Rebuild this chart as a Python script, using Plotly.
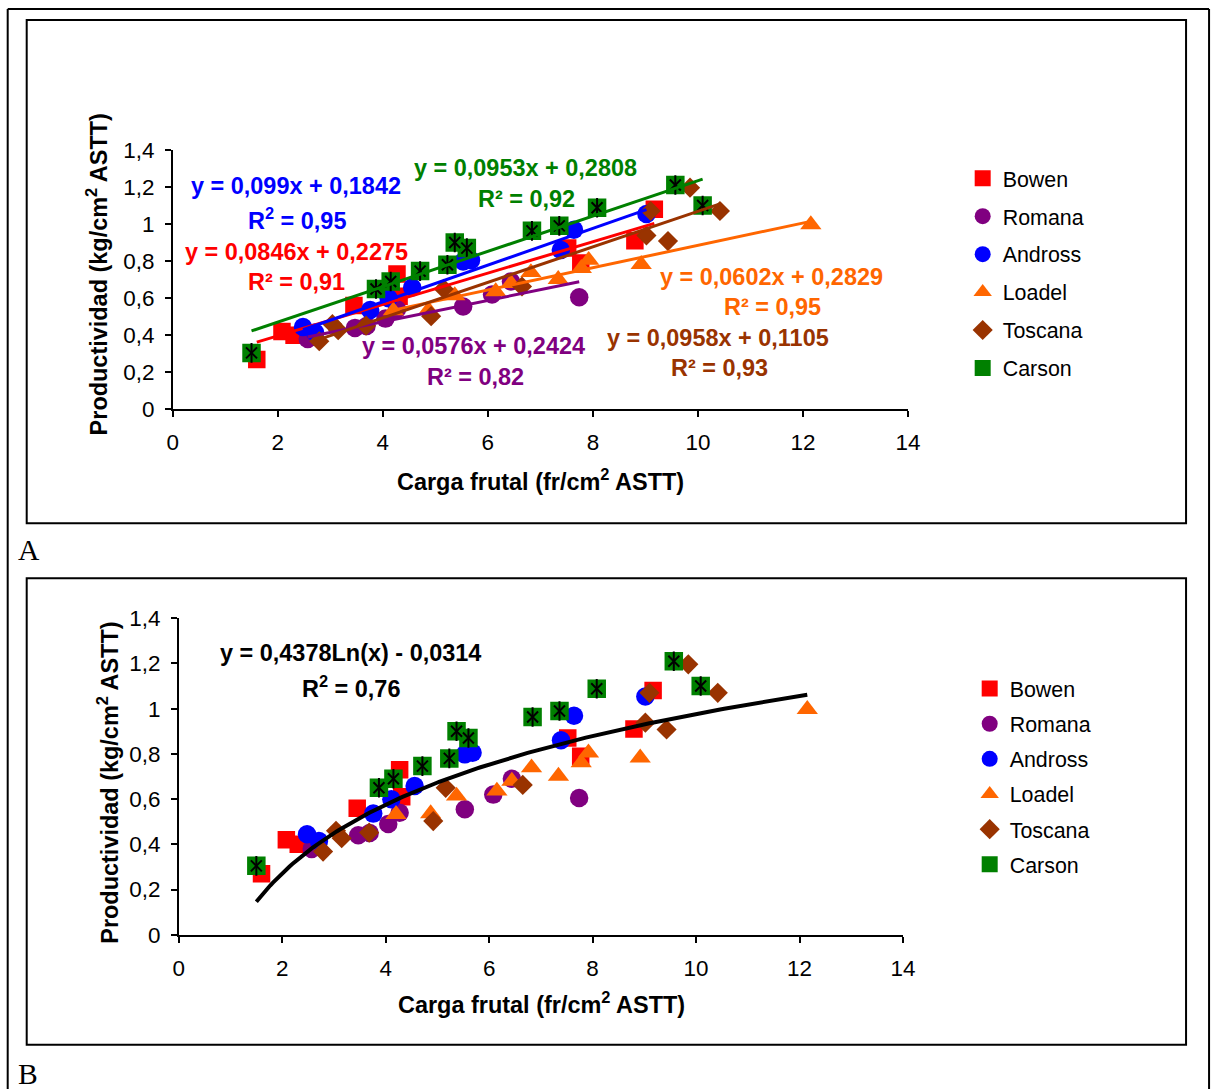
import plotly.graph_objects as go
import numpy as np

# The photographed page shows the figure slightly scaled and offset
# (measured: ref_x = 6.3 + 0.985 * fig_x, ref_y = 10.0 + 0.9786 * fig_y),
# so positions below are given in reference pixels and converted.
OX, SX = 6.3, 0.985
OY, SY = 10.0, 0.9786
W, H = 1224, 1103
FS = 1.02  # font compensation

# ---------------- data ----------------
varieties = ["Bowen", "Romana", "Andross", "Loadel", "Toscana", "Carson"]

bowen_x = [1.60, 2.08, 2.31, 3.45, 4.27, 4.31, 7.52, 7.77, 8.80, 9.17]
bowen_y = [0.27, 0.42, 0.40, 0.56, 0.73, 0.61, 0.87, 0.79, 0.91, 1.08]

romana_x = [2.57, 3.47, 3.69, 4.05, 4.27, 5.53, 6.08, 6.44, 7.74]
romana_y = [0.38, 0.44, 0.45, 0.49, 0.54, 0.555, 0.62, 0.69, 0.605]

andross_x = [2.48, 2.71, 3.76, 4.11, 4.56, 5.53, 5.68, 7.39, 7.64, 9.02]
andross_y = [0.445, 0.415, 0.536, 0.60, 0.658, 0.798, 0.805, 0.86, 0.969, 1.054]

loadel_x = [4.20, 4.87, 5.37, 6.15, 6.44, 6.82, 7.34, 7.78, 7.92, 8.92, 12.15]
loadel_y = [0.533, 0.536, 0.614, 0.636, 0.68, 0.739, 0.702, 0.761, 0.805, 0.783, 0.997]

toscana_x = [2.79, 3.04, 3.15, 3.68, 4.92, 5.16, 6.65, 9.02, 9.10, 9.43, 9.85, 10.42]
toscana_y = [0.368, 0.46, 0.427, 0.452, 0.503, 0.65, 0.663, 0.938, 1.07, 0.908, 1.196, 1.07]

carson_x = [1.50, 3.87, 4.15, 4.71, 5.23, 5.37, 5.60, 6.84, 7.36, 8.08, 9.57, 10.09]
carson_y = [0.305, 0.65, 0.69, 0.746, 0.78, 0.90, 0.87, 0.963, 0.99, 1.088, 1.21, 1.10]

series_x = [bowen_x, romana_x, andross_x, loadel_x, toscana_x, carson_x]
series_y = [bowen_y, romana_y, andross_y, loadel_y, toscana_y, carson_y]

# linear trend lines (panel A)
slopes = [0.0846, 0.0576, 0.099, 0.0602, 0.0958, 0.0953]
intercepts = [0.2275, 0.2424, 0.1842, 0.2829, 0.1105, 0.2808]
eq_texts = ["y = 0,0846x + 0,2275", "y = 0,0576x + 0,2424", "y = 0,099x + 0,1842",
            "y = 0,0602x + 0,2829", "y = 0,0958x + 0,1105", "y = 0,0953x + 0,2808"]
r2_texts = ["R² = 0,91", "R² = 0,82", "R<sup>2</sup> = 0,95",
            "R² = 0,95", "R² = 0,93", "R² = 0,92"]

# logarithmic trend (panel B)
log_a, log_b = 0.4378, -0.0314
log_eq = "y = 0,4378Ln(x) - 0,0314"
log_r2 = "R<sup>2</sup> = 0,76"

x_ticks = [0, 2, 4, 6, 8, 10, 12, 14]
y_tick_vals = [0, 0.2, 0.4, 0.6, 0.8, 1.0, 1.2, 1.4]
y_tick_text = ["0", "0,2", "0,4", "0,6", "0,8", "1", "1,2", "1,4"]

# ---------------- styles ----------------
colors = ["#FF0000", "#800080", "#0000FF", "#FF6600", "#993300", "#008000"]
symbols = ["square", "circle", "circle", "triangle-up", "diamond", "square"]
sizes = [17.5, 18.5, 18.5, 18.5, 15.5, 18.5]
FONT = "Liberation Sans, Arial, sans-serif"


def px(x):
    return ((x - OX) / SX) / W


def py(y):
    return 1 - ((y - OY) / SY) / H


fig = go.Figure()

panels = [("x", "y", "legend"), ("x2", "y2", "legend2")]
for pi, (xa, ya, lg) in enumerate(panels):
    for i, name in enumerate(varieties):
        fig.add_trace(go.Scatter(
            x=series_x[i], y=series_y[i], mode="markers", name=name,
            xaxis=xa, yaxis=ya, legend=lg, legendgroup=f"{lg}_{name}",
            marker=dict(symbol=symbols[i], color=colors[i], size=sizes[i],
                        line=dict(width=0)),
            hoverinfo="skip"))
        if name == "Carson":
            for sym, sz in (("x-thin-open", 11), ("line-ns-open", 14)):
                fig.add_trace(go.Scatter(
                    x=series_x[i], y=series_y[i], mode="markers",
                    xaxis=xa, yaxis=ya, showlegend=False,
                    marker=dict(symbol=sym, size=sz, color="black",
                                line=dict(width=2, color="black")),
                    hoverinfo="skip"))

# linear trend lines on panel A
for i, name in enumerate(varieties):
    xs = np.array([min(series_x[i]), max(series_x[i])])
    fig.add_trace(go.Scatter(
        x=xs, y=slopes[i] * xs + intercepts[i], mode="lines",
        xaxis="x", yaxis="y", showlegend=False,
        line=dict(color=colors[i], width=3), hoverinfo="skip"))

# log trend on panel B
all_x = np.concatenate([np.array(s) for s in series_x])
xl = np.linspace(all_x.min(), all_x.max(), 200)
fig.add_trace(go.Scatter(
    x=xl, y=log_a * np.log(xl) + log_b, mode="lines",
    xaxis="x2", yaxis="y2", showlegend=False,
    line=dict(color="black", width=4), hoverinfo="skip"))

axis_common = dict(showgrid=False, zeroline=False, showline=True, linecolor="black",
                   linewidth=1.5, ticks="outside", ticklen=6, tickcolor="black",
                   tickwidth=1.5, tickfont=dict(family=FONT, size=22 * FS, color="black"))

fig.update_layout(
    width=W, height=H, margin=dict(l=0, r=0, t=0, b=0),
    paper_bgcolor="white", plot_bgcolor="white",
    xaxis=dict(domain=[px(173), px(908)], range=[0, 14], tickvals=x_ticks,
               anchor="y", ticklabelstandoff=6, **axis_common),
    yaxis=dict(domain=[py(408), py(148)], range=[0, 1.4], tickvals=y_tick_vals,
               ticktext=y_tick_text, anchor="x", ticklabelstandoff=6, **axis_common),
    xaxis2=dict(domain=[px(179), px(903)], range=[0, 14], tickvals=x_ticks,
                anchor="y2", ticklabelstandoff=7, **axis_common),
    yaxis2=dict(domain=[py(934), py(617)], range=[0, 1.4], tickvals=y_tick_vals,
                ticktext=y_tick_text, anchor="x2", ticklabelstandoff=6, **axis_common),
    legend=dict(x=px(962.7), y=py(156), xanchor="left", yanchor="top",
                font=dict(family=FONT, size=21 * FS, color="black"),
                tracegroupgap=7.1, itemwidth=30, bgcolor="rgba(0,0,0,0)"),
    legend2=dict(x=px(969.7), y=py(667), xanchor="left", yanchor="top",
                 font=dict(family=FONT, size=21 * FS, color="black"),
                 tracegroupgap=4.3, itemwidth=30, bgcolor="rgba(0,0,0,0)"),
    showlegend=True,
)

# frames
shapes = [
    dict(type="line", x0=px(8), x1=px(8), y0=py(7), y1=py(1095)),
    dict(type="line", x0=px(8), x1=px(1209), y0=py(7), y1=py(7)),
    dict(type="line", x0=px(1209), x1=px(1209), y0=py(7), y1=py(1095)),
    dict(type="rect", x0=px(27), x1=px(1186), y0=py(18), y1=py(522)),
    dict(type="rect", x0=px(27), x1=px(1186), y0=py(577), y1=py(1044)),
]
for s in shapes:
    s.update(xref="paper", yref="paper", line=dict(color="black", width=2))
fig.update_layout(shapes=shapes)

ann = []


def add_text(text, x, y, color="black", size=23, bold=True, angle=0, family=FONT):
    ann.append(dict(text=text, x=px(x), y=py(y), xref="paper", yref="paper",
                    showarrow=False, xanchor="center", yanchor="middle", textangle=angle,
                    font=dict(family=family, size=size * FS, color=color,
                              weight="bold" if bold else "normal")))


# axis titles
add_text("Carga frutal (fr/cm<sup>2</sup> ASTT)", 541, 479)
add_text("Productividad (kg/cm<sup>2</sup> ASTT)", 97, 273, angle=-90)
add_text("Carga frutal (fr/cm<sup>2</sup> ASTT)", 542, 1002)
add_text("Productividad (kg/cm<sup>2</sup> ASTT)", 108, 782, angle=-90)

# equations panel A: order Bowen, Romana, Andross, Loadel, Toscana, Carson
eq_pos = [(297, 250, 297, 280), (474, 344, 476, 375), (296, 184, 297, 217),
          (772, 275, 773, 305), (718, 336, 720, 366), (526, 166, 527, 197)]
for i in range(6):
    ex, ey, rx, ry = eq_pos[i]
    add_text(eq_texts[i], ex, ey, color=colors[i])
    add_text(r2_texts[i], rx, ry, color=colors[i])

add_text(log_eq, 351, 652)
add_text(log_r2, 351, 686)

# panel letters
add_text("A", 29, 549, size=29, bold=False, family="Liberation Serif, Times New Roman, serif")
add_text("B", 28, 1073, size=29, bold=False, family="Liberation Serif, Times New Roman, serif")

fig.update_layout(annotations=ann)

fig.write_html("out.html")
